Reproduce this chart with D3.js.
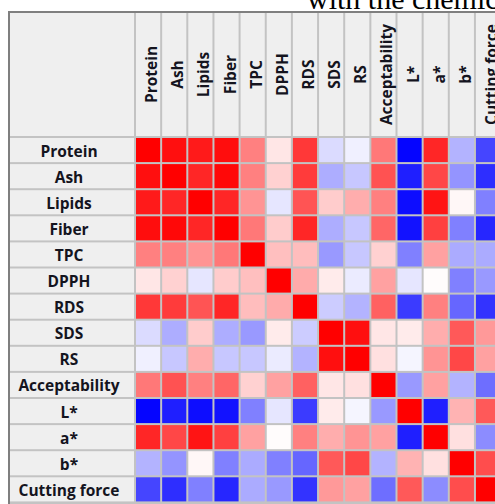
<!DOCTYPE html>
<html>
<head>
<meta charset="utf-8">
<script src="https://cdn.jsdelivr.net/npm/d3@7"></script>
<style>
  html, body { margin: 0; padding: 0; background: #ffffff; }
  svg { display: block; }
</style>
</head>
<body>
<svg id="chart" width="495" height="504"></svg>
<script>
// Variables of the correlation matrix (rows and columns share the same order)
const variables = ["Protein", "Ash", "Lipids", "Fiber", "TPC", "DPPH", "RDS", "SDS", "RS",
  "Acceptability", "L*", "a*", "b*", "Cutting force"];

// Pearson correlation coefficients, one array per row variable
const rowProtein      = [ 1.00,  0.94,  0.90,  0.95,  0.50,  0.10,  0.78, -0.14, -0.06,  0.53, -0.98,  0.85, -0.30, -0.73];
const rowAsh          = [ 0.94,  1.00,  0.85,  0.97,  0.50,  0.18,  0.77, -0.32, -0.22,  0.68, -0.88,  0.72, -0.42, -0.82];
const rowLipids       = [ 0.90,  0.85,  1.00,  0.85,  0.42, -0.10,  0.67,  0.20,  0.32,  0.50, -0.95,  0.92,  0.03, -0.50];
const rowFiber        = [ 0.95,  0.97,  0.85,  1.00,  0.53,  0.20,  0.85, -0.32, -0.22,  0.60, -0.93,  0.75, -0.50, -0.85];
const rowTPC          = [ 0.50,  0.50,  0.42,  0.53,  1.00,  0.25,  0.26, -0.40, -0.22,  0.18, -0.50,  0.37, -0.33, -0.33];
const rowDPPH         = [ 0.10,  0.18, -0.10,  0.20,  0.25,  1.00,  0.33,  0.08, -0.08,  0.37, -0.10,  0.01, -0.50, -0.40];
const rowRDS          = [ 0.78,  0.77,  0.67,  0.85,  0.26,  0.33,  1.00, -0.20, -0.30,  0.62, -0.77,  0.50, -0.60, -0.80];
const rowSDS          = [-0.14, -0.32,  0.20, -0.32, -0.40,  0.08, -0.20,  1.00,  0.94,  0.10,  0.08,  0.32,  0.65,  0.40];
const rowRS           = [-0.06, -0.22,  0.32, -0.22, -0.22, -0.08, -0.30,  0.94,  1.00,  0.12, -0.04,  0.42,  0.72,  0.37];
const rowAcceptability= [ 0.53,  0.68,  0.50,  0.60,  0.18,  0.37,  0.62,  0.10,  0.12,  1.00, -0.40,  0.37, -0.30, -0.57];
const rowL            = [-0.98, -0.88, -0.95, -0.93, -0.50, -0.10, -0.77,  0.08, -0.04, -0.40,  1.00, -0.88,  0.30,  0.65];
const rowA            = [ 0.85,  0.72,  0.92,  0.75,  0.37,  0.01,  0.50,  0.32,  0.42,  0.37, -0.88,  1.00,  0.12, -0.45];
const rowB            = [-0.30, -0.42,  0.03, -0.50, -0.33, -0.50, -0.60,  0.65,  0.72, -0.30,  0.30,  0.12,  1.00,  0.70];
const rowCuttingForce = [-0.73, -0.82, -0.50, -0.85, -0.33, -0.40, -0.80,  0.40,  0.37, -0.57,  0.65, -0.45,  0.70,  1.00];

const matrix = [rowProtein, rowAsh, rowLipids, rowFiber, rowTPC, rowDPPH, rowRDS, rowSDS, rowRS,
  rowAcceptability, rowL, rowA, rowB, rowCuttingForce];

// Running caption line above the table
const captionText = "with the chemical";

const svg = d3.select("#chart");
const FONT = "'Open Sans', 'DejaVu Sans', sans-serif";

// Table geometry
const tableLeft = 8, tableTop = 11;
const labelLeft = 10, labelRight = 134;
const headTop = 13, headBottom = 136;
const grid = 2;
const cellsLeft = 136, cellsTop = 138, pitchX = 26.15, pitchY = 26.1;

const x = d3.scaleBand().domain(variables)
  .range([cellsLeft, cellsLeft + pitchX * variables.length]).paddingInner(0).paddingOuter(0);
const y = d3.scaleBand().domain(variables)
  .range([cellsTop, cellsTop + pitchY * variables.length]).paddingInner(0).paddingOuter(0);

const color = d3.scaleLinear().domain([-1, 0, 1]).range(["#0000ff", "#ffffff", "#ff0000"]);

// Caption
svg.append("text")
  .attr("x", 307).attr("y", 9)
  .attr("font-family", "'Liberation Serif', 'Times New Roman', serif")
  .attr("font-size", 30)
  .attr("fill", "#000")
  .text(captionText);

// Outer frame (dark edge) and grid background
svg.append("rect")
  .attr("x", tableLeft).attr("y", tableTop)
  .attr("width", 495 - tableLeft + 10).attr("height", 504 - tableTop + 10)
  .attr("fill", "#7f7f7f");
svg.append("rect")
  .attr("x", labelLeft).attr("y", headTop)
  .attr("width", 495).attr("height", 504)
  .attr("fill", "#c3c3c3");

// Top-left corner cell
svg.append("rect")
  .attr("x", labelLeft).attr("y", headTop)
  .attr("width", labelRight - labelLeft).attr("height", headBottom - headTop)
  .attr("fill", "#efefef");

// Column header cells with rotated names
const head = svg.append("g").selectAll("g").data(variables).join("g");
head.append("rect")
  .attr("x", d => x(d)).attr("y", headTop)
  .attr("width", x.bandwidth() - grid).attr("height", headBottom - headTop)
  .attr("fill", "#efefef");
head.append("text")
  .attr("transform", d => `translate(${x(d) + (x.bandwidth() - grid) / 2 + 3},${(headTop + headBottom) / 2}) rotate(-90)`)
  .attr("text-anchor", "middle")
  .attr("dominant-baseline", "central")
  .attr("font-family", FONT).attr("font-weight", 700).attr("font-size", 15.5)
  .attr("fill", "#14141e")
  .text(d => d);

// Row header cells
const rowHead = svg.append("g").selectAll("g").data(variables).join("g");
rowHead.append("rect")
  .attr("x", labelLeft).attr("y", d => y(d))
  .attr("width", labelRight - labelLeft).attr("height", y.bandwidth() - grid)
  .attr("fill", "#efefef");
rowHead.append("text")
  .attr("x", 69)
  .attr("y", d => y(d) + (y.bandwidth() - grid) / 2 + 0.5)
  .attr("text-anchor", "middle")
  .attr("dominant-baseline", "central")
  .attr("font-family", FONT).attr("font-weight", 700).attr("font-size", 15.5)
  .attr("fill", "#14141e")
  .text(d => d);

// Correlation cells
const cells = [];
matrix.forEach((row, i) => row.forEach((v, j) => cells.push({ r: variables[i], c: variables[j], v })));
svg.append("g").selectAll("rect").data(cells).join("rect")
  .attr("x", d => x(d.c)).attr("y", d => y(d.r))
  .attr("width", x.bandwidth() - grid).attr("height", y.bandwidth() - grid)
  .attr("fill", d => color(d.v));
</script>
</body>
</html>
